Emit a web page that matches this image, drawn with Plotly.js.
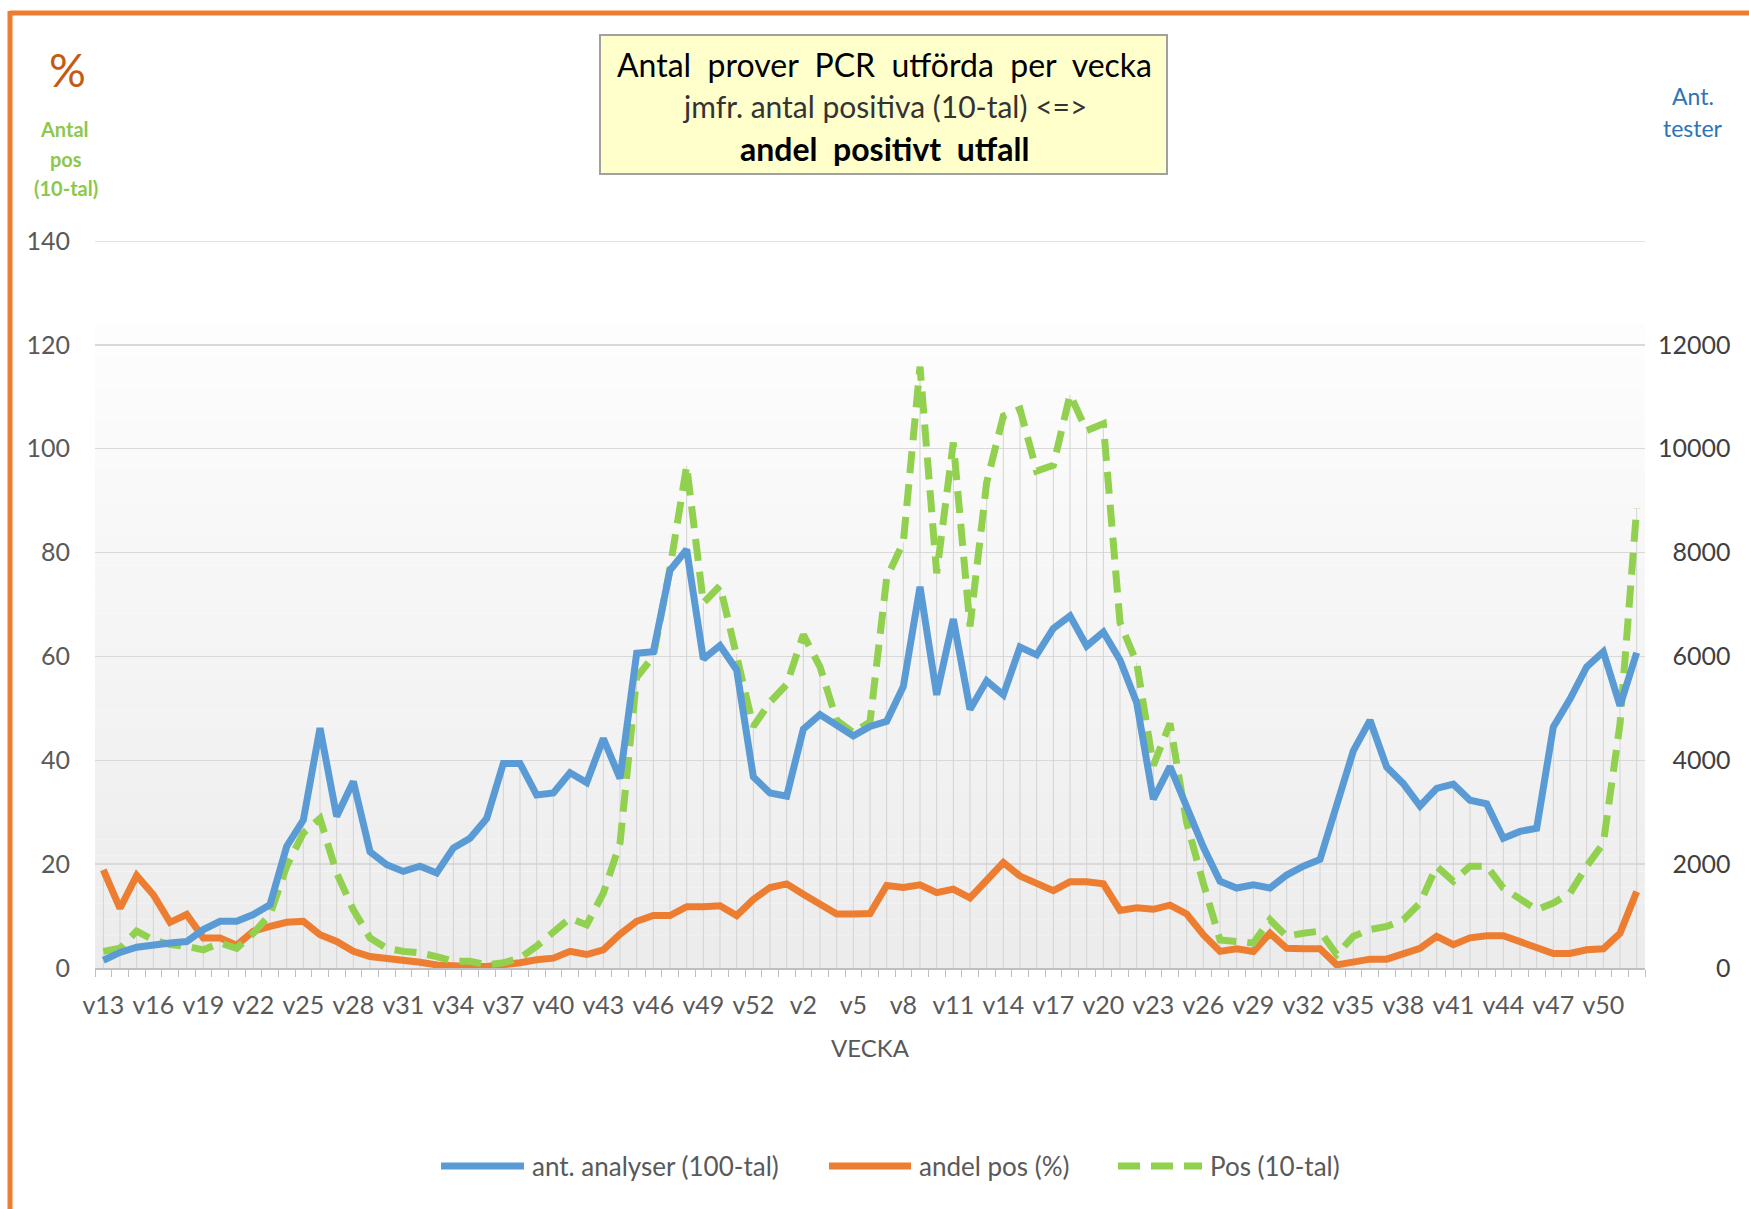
<!DOCTYPE html>
<html>
<head>
<meta charset="utf-8">
<script src="https://cdn.plot.ly/plotly-3.0.1.min.js"></script>
<style>
  html, body { margin: 0; padding: 0; background: #fff; }
</style>
</head>
<body>
<div id="pcr_plot" style="width:1749px;height:1209px;"></div>
<script>
// veckor 2020 v13-v53, 2021 v1-v52
var weekLabels = [];
var weekIds = [];
for (var w = 13; w <= 53; w++) { weekLabels.push('v' + w); weekIds.push('2020-' + w); }
for (var w = 1; w <= 52; w++) { weekLabels.push('v' + w); weekIds.push('2021-' + w); }

// ant. analyser (antal tester, höger axel)
var analyser = [
    150, 300, 400, 450, 480, 510, 740, 900, 900, 1030,
    1220, 2340, 2850, 4620, 2920, 3590, 2240, 1990, 1860, 1960,
    1830, 2310, 2500, 2880, 3940, 3940, 3330, 3370, 3760, 3570,
    4420, 3650, 6060, 6090, 7660, 8060, 5950, 6210, 5740, 3680,
    3370, 3310, 4600, 4880, 4670, 4470, 4650, 4750, 5420, 7340,
    5260, 6720, 4980, 5530, 5260, 6180, 6030, 6540, 6780, 6200,
    6470, 5930, 5110, 3250, 3880, 3110, 2330, 1670, 1540, 1600,
    1540, 1790, 1960, 2090, 3140, 4180, 4770, 3870, 3550, 3120,
    3460, 3540, 3230, 3160, 2500, 2630, 2690, 4640, 5180, 5800,
    6090, 5050, 6070
];

// andel pos (%)
var andelPos = [
    18.9, 11.5, 17.8, 14.1, 8.8, 10.3, 5.8, 5.8, 4.4, 7.1,
    8.0, 8.8, 9.0, 6.4, 5.1, 3.2, 2.2, 1.9, 1.7, 1.1,
    0.6, 0.3, 0.3, 0.3, 0.6, 1.0, 1.6, 1.9, 3.2, 2.6,
    3.5, 6.5, 9.0, 10.1, 10.1, 11.8, 11.8, 12.0, 10.1, 13.2,
    15.5, 16.2, 14.2, 12.1, 10.4, 10.4, 10.5, 15.9, 15.5, 16.0,
    14.5, 15.2, 13.5, 16.9, 20.3, 17.7, 16.2, 14.9, 16.6, 16.6,
    16.2, 11.1, 11.6, 11.3, 12.1, 10.4, 6.4, 3.2, 3.7, 3.2,
    6.7, 3.8, 3.7, 3.7, 0.6, 1.1, 1.7, 1.7, 2.9, 3.8,
    6.1, 4.5, 5.8, 6.2, 6.2, 5.1, 3.8, 2.8, 2.8, 3.5,
    3.7, 6.7, 14.7
];

// Pos (10-tal)
var posTiotal = [
    3.2, 3.8, 7.1, 5.4, 4.5, 4.2, 3.5, 4.8, 3.8, 6.7,
    10.3, 19.6, 26.0, 28.8, 18.3, 11.2, 5.8, 3.8, 3.2, 2.9,
    2.2, 1.3, 1.3, 0.6, 1.0, 1.9, 4.2, 6.7, 9.6, 8.3,
    14.4, 24.0, 56.0, 60.0, 77.0, 96.7, 70.3, 73.6, 60.5, 46.5,
    51.2, 54.6, 64.2, 58.0, 47.7, 45.3, 47.4, 75.1, 82.0, 115.8,
    76.0, 101.2, 65.8, 93.5, 106.3, 107.6, 95.7, 96.8, 110.4, 103.5,
    104.8, 66.5, 58.8, 39.0, 47.1, 28.0, 16.3, 5.4, 5.1, 4.8,
    9.3, 6.1, 6.7, 7.1, 2.6, 6.1, 7.4, 8.0, 9.3, 12.5,
    19.6, 16.7, 19.6, 19.6, 15.4, 13.1, 11.2, 12.5, 14.4, 19.6,
    24.0, 47.0, 88.5
];

var leftTicks = [0, 20, 40, 60, 80, 100, 120, 140];
var rightTicks = [0, 2000, 4000, 6000, 8000, 10000, 12000];

var seriesNames = ['ant. analyser (100-tal)', 'andel pos (%)', 'Pos (10-tal)'];
var seriesColors = ['#5B9BD5', '#ED7D31', '#92D050'];

var FONT = 'Lato, "Open Sans", sans-serif';
var GREY = '#595959';

// plot area in pixels
var PL = 95, PR = 1645, PT = 241, PB = 968;
function px(x) { return (x - PL) / (PR - PL); }
function py(y) { return (PB - y) / (PB - PT); }

function dropLines() {
    // Excel-liknande släpplinjer: från högsta punkten ner till axeln
    var x = [], y = [];
    for (var i = 0; i < weekIds.length; i++) {
        var top = Math.max(analyser[i] / 100, andelPos[i], posTiotal[i]);
        x.push(weekIds[i], weekIds[i], null);
        y.push(0, top, null);
    }
    return {type: 'scatter', mode: 'lines', x: x, y: y, hoverinfo: 'skip', showlegend: false,
        line: {color: '#D3D3D3', width: 1}};
}

function drawPlot() {
    var tickText = weekLabels.map(function (l, i) { return i % 3 === 0 ? l : ''; });
    // höger axel: högerjusterade siffror med figure space
    var rightText = rightTicks.map(function (v) {
        var s = String(v);
        while (s.length < 5) s = '\u2007' + s;
        return s;
    });

    var data = [
        dropLines(),
        {type: 'scatter', mode: 'lines', x: weekIds, y: analyser, yaxis: 'y2',
            name: seriesNames[0], line: {color: seriesColors[0], width: 7}},
        {type: 'scatter', mode: 'lines', x: weekIds, y: andelPos,
            name: seriesNames[1], line: {color: seriesColors[1], width: 7}},
        {type: 'scatter', mode: 'lines', x: weekIds, y: posTiotal,
            name: seriesNames[2], line: {color: seriesColors[2], width: 7, dash: '22px,11px'}}
    ];

    var shapes = [];
    // gradient i plotytan
    var bands = 40, top = 124;
    for (var b = 0; b < bands; b++) {
        var t = b / (bands - 1);
        var c = Math.round(236 + (253 - 236) * t);
        shapes.push({type: 'rect', xref: 'paper', yref: 'y', layer: 'below',
            x0: 0, x1: 1, y0: top * b / bands, y1: top * (b + 1) / bands,
            fillcolor: 'rgb(' + c + ',' + c + ',' + c + ')', line: {width: 0}});
    }
    // översta stödlinjen (140) ritas inte av Plotly vid kanten
    shapes.push({type: 'line', xref: 'paper', yref: 'y', layer: 'below', x0: 0, x1: 1, y0: 140, y1: 140,
        line: {color: '#D9D9D9', width: 1.5}});
    // orange ram
    shapes.push({type: 'line', xref: 'paper', yref: 'paper', x0: px(10), x1: px(1760), y0: py(13), y1: py(13),
        line: {color: '#ED7D31', width: 5}});
    shapes.push({type: 'line', xref: 'paper', yref: 'paper', x0: px(10), x1: px(10), y0: py(11), y1: py(1220),
        line: {color: '#ED7D31', width: 5}});
    // titelruta
    shapes.push({type: 'rect', xref: 'paper', yref: 'paper', x0: px(600), x1: px(1167), y0: py(35), y1: py(174),
        fillcolor: '#FFFFCC', line: {color: '#A0A0A0', width: 2}});
    // legend-linjer
    var legX = [[441, 524], [829, 911], [1118, 1202]];
    for (var k = 0; k < 3; k++) {
        shapes.push({type: 'line', xref: 'paper', yref: 'paper',
            x0: px(legX[k][0]), x1: px(legX[k][1]), y0: py(1166), y1: py(1166),
            line: {color: seriesColors[k], width: 7, dash: k === 2 ? '22px,11px' : 'solid'}});
    }

    function note(text, x, y, size, color, anchor) {
        return {text: text, xref: 'paper', yref: 'paper', x: px(x), y: py(y), showarrow: false,
            xanchor: anchor || 'center', yanchor: 'middle', font: {family: FONT, size: size, color: color}};
    }

    var annotations = [
        note('Antal  prover  PCR  utförda  per  vecka', 884, 64, 32, '#000'),
        note('jmfr. antal positiva (10-tal) &lt;=&gt;', 884, 106, 30, '#333'),
        note('<b>andel  positivt  utfall</b>', 884, 148, 32, '#000'),
        note('%', 67, 69, 46, '#C55A11'),
        note('<b>Antal</b>', 64, 129, 20, '#8CC84B'),
        note('<b>pos</b>', 66, 159, 20, '#8CC84B'),
        note('<b>(10-tal)</b>', 66, 188, 20, '#8CC84B'),
        note('Ant.', 1693, 96, 23, '#2E75B6'),
        note('tester', 1693, 128, 23, '#2E75B6')
    ];
    var legTextX = [530, 917, 1208];
    for (var k = 0; k < 3; k++) {
        annotations.push(note(seriesNames[k], legTextX[k], 1166, 26, GREY, 'left'));
    }

    var layout = {
        width: 1749,
        height: 1209,
        margin: {l: PL, r: 1749 - PR, t: PT, b: 1209 - PB, pad: 0},
        paper_bgcolor: '#FFFFFF',
        plot_bgcolor: 'rgba(0,0,0,0)',
        showlegend: false,
        font: {family: FONT, color: GREY},
        xaxis: {
            type: 'category',
            categoryorder: 'array',
            categoryarray: weekIds,
            range: [-0.5, weekIds.length - 0.5],
            tickmode: 'array',
            tickvals: weekIds,
            ticktext: tickText,
            tickson: 'boundaries',
            ticks: 'outside',
            ticklen: 7,
            tickcolor: '#BFBFBF',
            tickangle: 0,
            ticklabelstandoff: 14,
            tickfont: {family: FONT, size: 25, color: GREY},
            showgrid: false,
            showline: true,
            linecolor: '#BFBFBF',
            linewidth: 1.5,
            title: {text: 'VECKA', font: {family: FONT, size: 24, color: GREY}, standoff: 22}
        },
        yaxis: {
            range: [0, 140],
            tickmode: 'array',
            tickvals: leftTicks,
            showgrid: true,
            gridcolor: '#D9D9D9',
            gridwidth: 1.5,
            zeroline: false,
            showline: false,
            ticks: '',
            ticklabelstandoff: 24,
            tickfont: {family: FONT, size: 25, color: GREY}
        },
        yaxis2: {
            overlaying: 'y',
            side: 'right',
            range: [0, 14000],
            tickmode: 'array',
            tickvals: rightTicks,
            ticktext: rightText,
            showgrid: false,
            zeroline: false,
            showline: false,
            ticks: '',
            ticklabelstandoff: 12,
            tickfont: {family: FONT, size: 25, color: '#404040'}
        },
        shapes: shapes,
        annotations: annotations
    };

    Plotly.newPlot('pcr_plot', data, layout, {displayModeBar: false, staticPlot: true});
}

drawPlot();
</script>
</body>
</html>
